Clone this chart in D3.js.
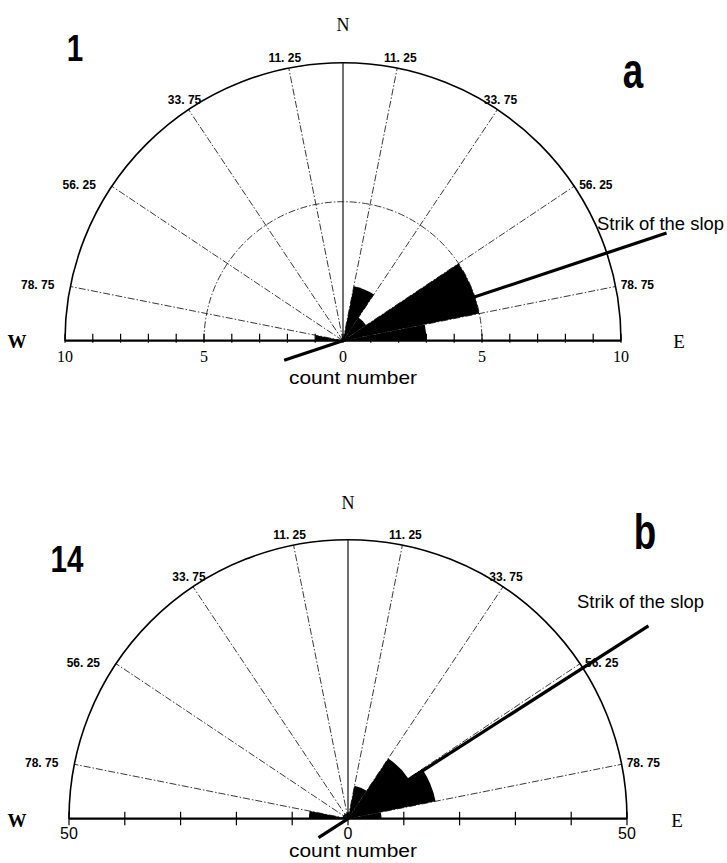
<!DOCTYPE html>
<html><head><meta charset="utf-8">
<script src="https://cdn.jsdelivr.net/npm/d3@7"></script>
<style>body{margin:0;background:#fff}</style>
</head><body>
<svg id="c" width="727" height="863" xmlns="http://www.w3.org/2000/svg"></svg>
<script>
// ---------- data ----------
const binEdges = [-90, -78.75, -56.25, -33.75, -11.25, 11.25, 33.75, 56.25, 78.75, 90];
const countsA = [1, 0, 0, 0, 0, 2, 1, 5, 3];
const countsB = [7, 1, 1, 1, 1, 6, 13, 16, 6];
const strikeA = 71.6;   // azimuth of the slope strike, degrees from N
const strikeB = 57.3;
const gridAngles = [-78.75, -56.25, -33.75, -11.25, 11.25, 33.75, 56.25, 78.75];
const gridLabels = ["78. 75", "56. 25", "33. 75", "11. 25", "11. 25", "33. 75", "56. 25", "78. 75"];
const maxA = 10, maxB = 50;
const ticksA = d3.range(-10, 11, 1);
const ticksB = d3.range(-50, 51, 10);
const tickLabelsA = [-10, -5, 0, 5, 10];
const tickLabelsB = [-50, 0, 50];
const midCircleA = [5];
const midCircleB = [];

// ---------- layout ----------
const panels = [
  {num: "1", letter: "a", counts: countsA, max: maxA, ticks: ticksA, tickLabels: tickLabelsA,
   strike: strikeA, mid: midCircleA, cx: 343, cy: 340.7, r: 278,
   tickUp: 7, tickDown: 2, tickFont: "Liberation Serif", tickSize: 16, tickDy: 21,
   strikeLen: [-62, 341], strikeText: [597, 230],
   numPos: [75, 61], letterPos: [633, 88], nY: 31, weY: 348, eX: 679, countY: 384, countSize: 19},
  {num: "14", letter: "b", counts: countsB, max: maxB, ticks: ticksB, tickLabels: tickLabelsB,
   strike: strikeB, mid: midCircleB, cx: 348, cy: 818.7, r: 279,
   tickUp: 7, tickDown: 6.5, tickFont: "Liberation Sans", tickSize: 16, tickDy: 20,
   strikeLen: [-35, 357], strikeText: [577, 608],
   numPos: [67, 572], letterPos: [645, 549], nY: 509, weY: 827, eX: 677, countY: 857, countSize: 18}
];

const svg = d3.select("#c");
const rad = d => d * Math.PI / 180;

panels.forEach(p => {
  const g = svg.append("g");
  const rS = d3.scaleLinear().domain([0, p.max]).range([0, p.r]);
  const xS = d3.scaleLinear().domain([-p.max, p.max]).range([p.cx - p.r, p.cx + p.r]);
  const polar = (ang, rr) => [p.cx + rr * Math.sin(rad(ang)), p.cy - rr * Math.cos(rad(ang))];

  // radial grid lines
  gridAngles.forEach(a => {
    const e = polar(a, p.r);
    g.append("line").attr("x1", p.cx).attr("y1", p.cy).attr("x2", e[0]).attr("y2", e[1])
      .attr("stroke", "#222").attr("stroke-width", 0.9).attr("stroke-dasharray", "7,2,1.5,2");
  });
  // N line
  g.append("line").attr("x1", p.cx).attr("y1", p.cy).attr("x2", p.cx).attr("y2", p.cy - p.r)
    .attr("stroke", "#111").attr("stroke-width", 1.2);

  // mid circle
  p.mid.forEach(m => {
    const path = d3.path();
    path.moveTo(p.cx - rS(m), p.cy);
    path.arc(p.cx, p.cy, rS(m), Math.PI, 2 * Math.PI);
    g.append("path").attr("d", path.toString()).attr("fill", "none")
      .attr("stroke", "#222").attr("stroke-width", 0.9).attr("stroke-dasharray", "7,2,1.5,2");
  });

  // outer arc
  const op = d3.path();
  op.moveTo(p.cx - p.r, p.cy);
  op.arc(p.cx, p.cy, p.r, Math.PI, 2 * Math.PI);
  g.append("path").attr("d", op.toString()).attr("fill", "none")
    .attr("stroke", "#000").attr("stroke-width", 1.6);

  // wedges
  const arc = d3.arc().innerRadius(0);
  p.counts.forEach((c, i) => {
    if (c <= 0) return;
    g.append("path")
      .attr("transform", `translate(${p.cx},${p.cy})`)
      .attr("d", arc({outerRadius: rS(c), startAngle: rad(binEdges[i]), endAngle: rad(binEdges[i + 1])}))
      .attr("fill", "#000");
  });

  // axis line
  g.append("line").attr("x1", xS(-p.max)).attr("x2", xS(p.max)).attr("y1", p.cy).attr("y2", p.cy)
    .attr("stroke", "#000").attr("stroke-width", 2.2);
  p.ticks.forEach(t => {
    g.append("line").attr("x1", xS(t)).attr("x2", xS(t)).attr("y1", p.cy - p.tickUp).attr("y2", p.cy + p.tickDown)
      .attr("stroke", "#000").attr("stroke-width", 1.2);
  });
  p.tickLabels.forEach(t => {
    g.append("text").attr("x", xS(t)).attr("y", p.cy + p.tickDy).attr("text-anchor", "middle")
      .attr("font-family", p.tickFont).attr("font-size", p.tickSize).attr("fill", "#000")
      .text(Math.abs(t));
  });

  // strike line
  const s0 = polar(p.strike, p.strikeLen[0]), s1 = polar(p.strike, p.strikeLen[1]);
  g.append("line").attr("x1", s0[0]).attr("y1", s0[1]).attr("x2", s1[0]).attr("y2", s1[1])
    .attr("stroke", "#000").attr("stroke-width", 3.2).attr("stroke-linecap", "butt");

  // angle labels
  gridAngles.forEach((a, i) => {
    const e = polar(a, p.r);
    const t = g.append("text").attr("font-family", "Liberation Sans").attr("font-weight", "bold")
      .attr("font-size", 12).attr("fill", "#000").text(gridLabels[i]);
    if (Math.abs(a) < 40) {
      t.attr("x", e[0] + (a < 0 ? -4 : 3)).attr("y", e[1] - 6).attr("text-anchor", "middle");
    } else {
      t.attr("x", e[0] + (a < 0 ? -16 : 5)).attr("y", e[1] + 3).attr("text-anchor", a < 0 ? "end" : "start");
    }
  });

  // compass letters
  g.append("text").attr("x", p.cx).attr("y", p.nY).attr("text-anchor", "middle")
    .attr("font-family", "Liberation Serif").attr("font-size", 18).text("N");
  g.append("text").attr("x", 17).attr("y", p.weY).attr("text-anchor", "middle")
    .attr("font-family", "Liberation Serif").attr("font-weight", "bold").attr("font-size", 19).text("W");
  g.append("text").attr("x", p.eX).attr("y", p.weY).attr("text-anchor", "middle")
    .attr("font-family", "Liberation Serif").attr("font-size", 19).text("E");

  g.append("text").attr("x", 289).attr("y", p.countY)
    .attr("font-family", "Liberation Sans").attr("font-size", p.countSize)
    .attr("textLength", 128).attr("lengthAdjust", "spacingAndGlyphs").text("count number");

  g.append("text").attr("x", p.strikeText[0]).attr("y", p.strikeText[1])
    .attr("font-family", "Liberation Sans").attr("font-size", 17.5)
    .attr("textLength", 127).attr("lengthAdjust", "spacingAndGlyphs").text("Strik of the slop");

  g.append("text").attr("transform", `translate(${p.numPos[0]},${p.numPos[1]}) scale(0.8,1)`)
    .attr("text-anchor", "middle").attr("font-family", "Liberation Sans").attr("font-weight", "bold")
    .attr("font-size", 37).text(p.num);
  g.append("text").attr("transform", `translate(${p.letterPos[0]},${p.letterPos[1]}) scale(0.75,1)`)
    .attr("text-anchor", "middle").attr("font-family", "Liberation Sans").attr("font-weight", "bold")
    .attr("font-size", 49).text(p.letter);
});
</script>
</body></html>
